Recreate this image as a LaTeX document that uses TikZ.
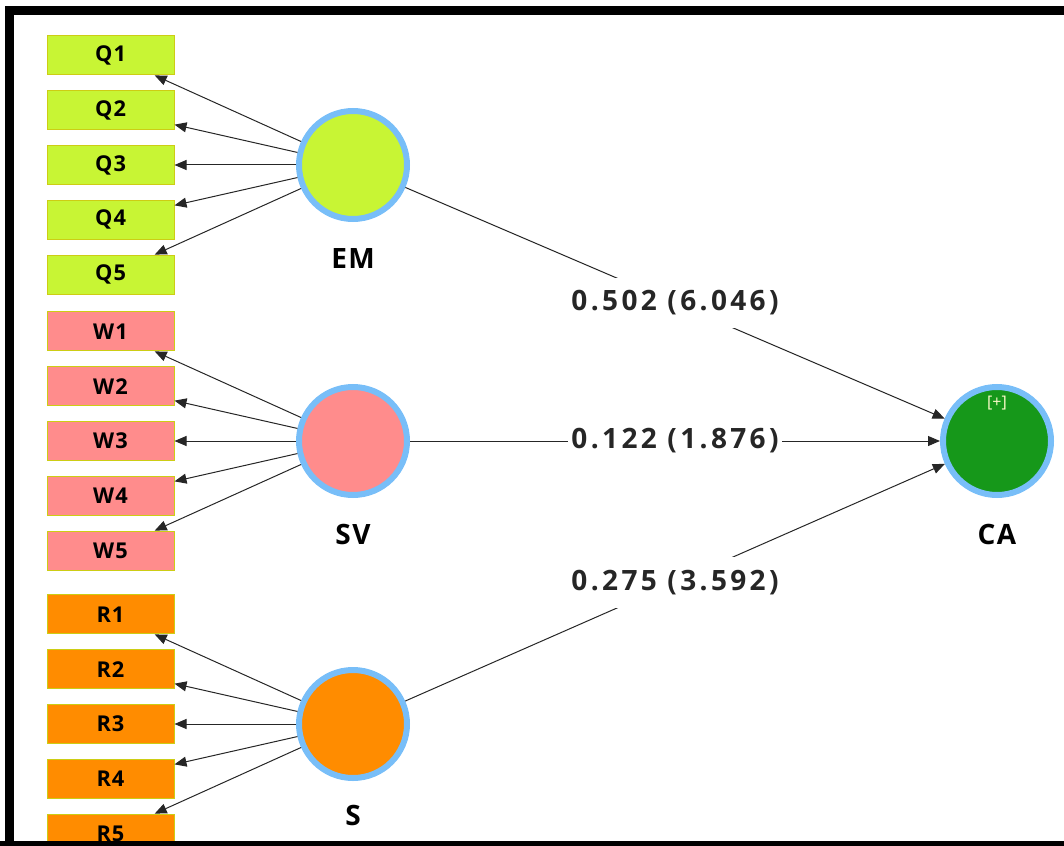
\documentclass[tikz,border=0pt]{standalone}
\usepackage{fontspec}
\setmainfont{Open Sans}
\newfontfamily\coeffont[LetterSpace=12]{Open Sans}
\newfontfamily\namefont[LetterSpace=5]{Open Sans}
\usetikzlibrary{arrows.meta, positioning}
\definecolor{emgreen}{RGB}{200,245,52}
\definecolor{svpink}{RGB}{255,140,140}
\definecolor{sorange}{RGB}{255,140,0}
\definecolor{cagreen}{RGB}{22,152,26}
\definecolor{ringblue}{RGB}{120,190,248}
\definecolor{boxedge}{RGB}{205,205,20}

\begin{document}
\begin{tikzpicture}[
    x=0.5pt, y=-0.5pt,
    node distance=7.4pt,
    % Node styles
    indicator/.style={
        rectangle,
        draw=boxedge,
        line width=0.5pt,
        minimum width=63.5pt,
        minimum height=19.5pt,
        inner sep=0pt,
        font=\fontsize{10.9}{12}\selectfont\namefont\bfseries
    },
    latent/.style={
        circle,
        draw=ringblue,
        line width=3pt,
        minimum size=54pt,
        inner sep=0pt
    },
    latentname/.style={
        inner sep=0pt,
        font=\fontsize{14}{16}\selectfont\namefont\bfseries
    },
    expandtag/.style={
        inner sep=0pt,
        text=white!80!yellow,
        font=\fontsize{8}{9}\selectfont
    },
    loading/.style={
        -{Triangle[length=6pt, width=5pt]},
        line width=0.5pt,
        black!85
    },
    coef/.style={
        fill=white,
        inner xsep=1.5pt,
        inner ysep=6.5pt,
        font=\fontsize{14}{16}\selectfont\coeffont\bfseries
    }
]
\useasboundingbox (0,0) rectangle (1064,845);
\clip (0,0) rectangle (1064,845);

% --- Latent variables ---
\node[latent, fill=emgreen] (EM) at (353,165) {};
\node[latentname, below=13pt of EM] (EMname) {EM};

\node[latent, fill=svpink] (SV) at (353,441) {};
\node[latentname, below=13pt of SV] (SVname) {SV};

\node[latent, fill=sorange] (S) at (353,724) {};
\node[latentname, below=12pt of S] (Sname) {S};

\node[latent, fill=cagreen] (CA) at (997,441) {};
\node[latentname, below=13pt of CA] (CAname) {CA};
\node[expandtag, below=6pt of CA.north] (CAexpand) {[+]};

% --- Indicators of EM ---
\node[indicator, fill=emgreen, left=60.75pt of EM] (Q3) {Q3};
\node[indicator, fill=emgreen, above=of Q3] (Q2) {Q2};
\node[indicator, fill=emgreen, above=of Q2] (Q1) {Q1};
\node[indicator, fill=emgreen, below=of Q3] (Q4) {Q4};
\node[indicator, fill=emgreen, below=of Q4] (Q5) {Q5};

% --- Indicators of SV ---
\node[indicator, fill=svpink, left=60.75pt of SV] (W3) {W3};
\node[indicator, fill=svpink, above=of W3] (W2) {W2};
\node[indicator, fill=svpink, above=of W2] (W1) {W1};
\node[indicator, fill=svpink, below=of W3] (W4) {W4};
\node[indicator, fill=svpink, below=of W4] (W5) {W5};

% --- Indicators of S ---
\node[indicator, fill=sorange, left=60.75pt of S] (R3) {R3};
\node[indicator, fill=sorange, above=of R3] (R2) {R2};
\node[indicator, fill=sorange, above=of R2] (R1) {R1};
\node[indicator, fill=sorange, below=of R3] (R4) {R4};
\node[indicator, fill=sorange, below=of R4] (R5) {R5};

% --- Outer loadings ---
\draw[loading] (EM) -- (Q1);
\draw[loading] (EM) -- (Q2);
\draw[loading] (EM) -- (Q3);
\draw[loading] (EM) -- (Q4);
\draw[loading] (EM) -- (Q5);

\draw[loading] (SV) -- (W1);
\draw[loading] (SV) -- (W2);
\draw[loading] (SV) -- (W3);
\draw[loading] (SV) -- (W4);
\draw[loading] (SV) -- (W5);

\draw[loading] (S) -- (R1);
\draw[loading] (S) -- (R2);
\draw[loading] (S) -- (R3);
\draw[loading] (S) -- (R4);
\draw[loading] (S) -- (R5);

% --- Path coefficients ---
\draw[loading] (EM) -- node[coef] (EMCA) {0.502 (6.046)} (CA);
\draw[loading] (SV) -- node[coef] (SVCA) {0.122 (1.876)} (CA);
\draw[loading] (S) -- node[coef] (SCA) {0.275 (3.592)} (CA);

% --- Frame ---
\draw[line width=4.5pt, black] (9.5,845) -- (9.5,11) -- (1080,11);
\draw[line width=4.5pt, black] (0,845) -- (1080,845);

\end{tikzpicture}
\end{document}
